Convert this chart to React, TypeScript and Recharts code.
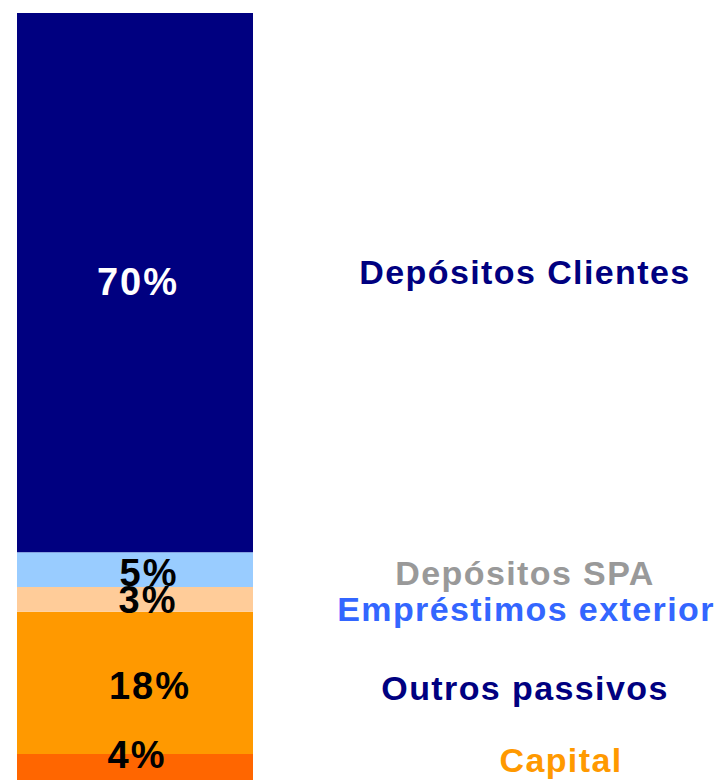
import React from 'react';
import { BarChart, Bar, XAxis, YAxis, LabelList } from 'recharts';

// Data (bottom to top of the stack)
const categories = ['Capital', 'Outros passivos', 'Empréstimos exterior', 'Depósitos SPA', 'Depósitos Clientes'];
const shares = [3.4, 18.55, 3.2, 4.55, 70.3];
const shareLabels = ['4%', '18%', '3%', '5%', '70%'];

// Styles
const barColors = ['#FF6600', '#FF9900', '#FFCC99', '#99CCFF', '#000080'];
const nameColors = ['#FF9900', '#000080', '#3366FF', '#999999', '#000080'];
const pctColors = ['#000000', '#000000', '#000000', '#000000', '#FFFFFF'];
// label placement tweaks (px)
const pctDx = [2, 15, 13, 14, 3];
const pctDy = [-12, 3, 1, 3, -1];
const nameDx = [308, 272, 273, 272, 272];
const nameDy = [-7, 5, 10, 3, -11];

const keys = categories.map((_, i) => `s${i}`);
const row: Record<string, number | string> = { name: 'Passivo' };
keys.forEach((k, i) => { row[k] = shares[i]; });
const data = [row];

const FONT = '"Liberation Sans", Arial, Helvetica, sans-serif';

function makeLabel(i: number) {
  return (props: any) => {
    const x = Number(props.x), y = Number(props.y), w = Number(props.width), h = Number(props.height);
    const cx = x + w / 2;
    const cy = y + h / 2;
    return (
      <g>
        <text x={cx + pctDx[i]} y={cy + pctDy[i]} textAnchor="middle" dominantBaseline="central"
          fill={pctColors[i]} fontFamily={FONT} fontWeight="bold" fontSize={38} letterSpacing={2}>
          {shareLabels[i]}
        </text>
        <text x={x + w + nameDx[i]} y={cy + nameDy[i]} textAnchor="middle" dominantBaseline="central"
          fill={nameColors[i]} fontFamily={FONT} fontWeight="bold" fontSize={34} letterSpacing={1.4}>
          {categories[i]}
        </text>
      </g>
    );
  };
}

export default function App() {
  return (
    <div style={{ position: 'absolute', left: 0, top: 0, width: 720, height: 780, background: '#fff' }}>
      <BarChart width={720} height={780} data={data} barCategoryGap={0}
        margin={{ top: 13, right: 467, bottom: 0, left: 17 }}>
        <XAxis dataKey="name" hide />
        <YAxis hide domain={[0, 100]} />
        {keys.map((k, i) => (
          <Bar key={k} dataKey={k} stackId="a" fill={barColors[i]} isAnimationActive={false}>
            <LabelList dataKey={k} content={makeLabel(i)} />
          </Bar>
        ))}
      </BarChart>
    </div>
  );
}
